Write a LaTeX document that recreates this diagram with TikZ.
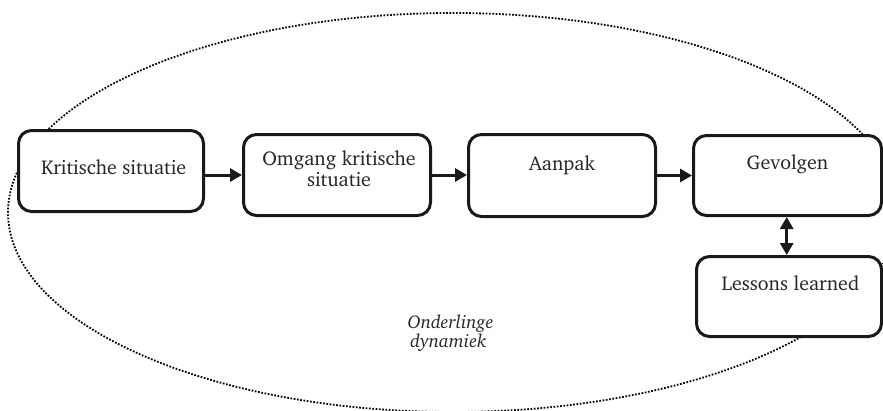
\documentclass[tikz,border=0pt]{standalone}
\usepackage[T1]{fontenc}
\usepackage{charter}
\usetikzlibrary{arrows.meta}
\tikzset{
  box/.style={draw=black!90, line width=3pt, rounded corners=13pt, fill=white, inner sep=0pt},
  lbl/.style={font=\fontsize{20}{22}\selectfont, text=black!85, inner sep=0pt},
  ilbl/.style={font=\fontsize{18.5}{19.4}\selectfont\itshape, text=black!85, inner sep=0pt, align=center},
  conn/.style={draw=black!90, line width=3pt, -{Triangle[length=12pt,width=13pt]}},
  dconn/.style={draw=black!90, line width=3pt, {Triangle[length=12pt,width=13pt]}-{Triangle[length=12pt,width=13pt]}},
  dyn/.style={draw=black, line width=1.8pt, dash pattern=on 1.7pt off 1.6pt}
}
\begin{document}
\begin{tikzpicture}[x=1pt,y=-1pt]
\clip (0,0) rectangle (883,410);
\useasboundingbox (0,0) rectangle (883,410);
\fill[white] (0,0) rectangle (883,410);
% ellipse of mutual dynamics
\draw[dyn] (453,212.5) ellipse [x radius=445, y radius=199.5];
% boxes
\node[box, minimum width=185pt, minimum height=81pt] (b1) at (111,171) {};
\node[box, minimum width=187pt, minimum height=81pt] (b2) at (337,175) {};
\node[box, minimum width=187pt, minimum height=82pt] (b3) at (562,175.5) {};
\node[box, minimum width=188pt, minimum height=80pt] (b4) at (787.5,175.5) {};
\node[box, minimum width=185pt, minimum height=80pt] (b5) at (789,296.5) {};
% labels
\node[lbl, anchor=base] (t1) at (113.7,174) {Kritische situatie};
\node[lbl, anchor=base] (t2a) at (339,165) {Omgang kritische};
\node[lbl, anchor=base] (t2b) at (339,186) {situatie};
\node[lbl, anchor=base] (t3) at (562,170.7) {Aanpak};
\node[lbl, anchor=base] (t4) at (787.5,169.3) {Gevolgen};
\node[lbl, anchor=base] (t5) at (790.5,290) {Lessons learned};
\node[ilbl, anchor=base] (d1) at (450.5,328) {Onderlinge};
\node[ilbl, anchor=base] (d2) at (448.5,347.5) {dynamiek};
% connectors
\draw[conn] (b1.east |- b2.west) -- (b2.west);
\draw[conn] (b2.east) -- (b3.west |- b2.east);
\draw[conn] (b3.east |- b4.west) -- (b4.west);
\draw[dconn] (b4.south -| 786.7,0) -- (b5.north -| 786.7,0);
\end{tikzpicture}
\end{document}
